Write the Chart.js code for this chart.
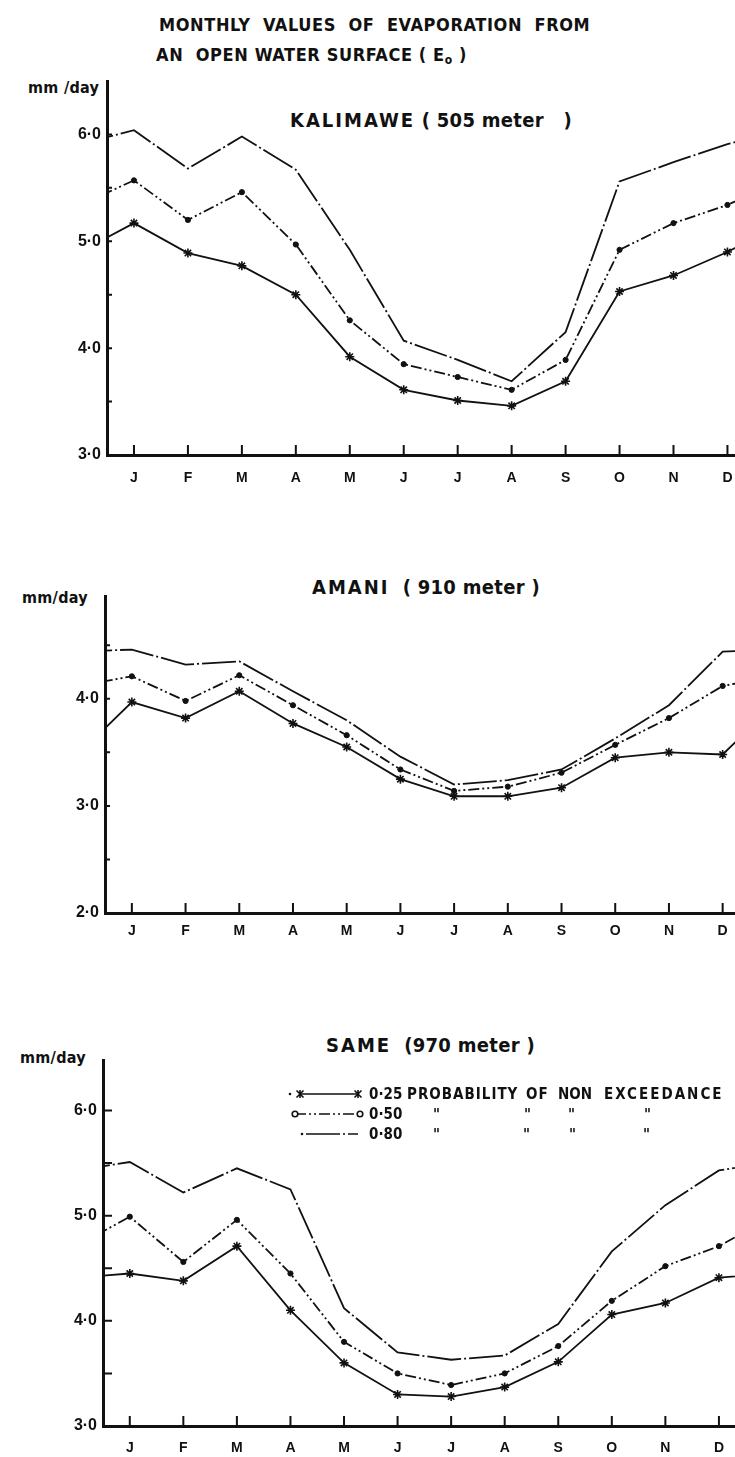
<!DOCTYPE html>
<html>
<head>
<meta charset="utf-8">
<title>Monthly values of evaporation from an open water surface</title>
<script src="https://cdn.jsdelivr.net/npm/chart.js@4.4.1/dist/chart.umd.min.js"></script>
<style>
  html, body { margin: 0; padding: 0; background: #fff; overflow: hidden; }
  body {
    width: 735px; height: 1457px; position: relative; color: #111;
    font-family: 'DejaVu Sans Condensed', 'Liberation Sans', sans-serif;
  }
  canvas { position: absolute; left: 0; }
  .t { position: absolute; white-space: pre; font-weight: bold; line-height: 1; }
  .title { font-size: 18px; letter-spacing: 0.6px; }
  .station { font-size: 20px; letter-spacing: 0.3px; }
  .station b { letter-spacing: 2px; }
  .unit { font-size: 16px; letter-spacing: 0.3px; }
  .leg { font-size: 15px; letter-spacing: 1px; }
  .num { letter-spacing: 0; }
  .ditto { font-size: 15px; font-style: italic; }
  sub { font-size: 12px; vertical-align: -3px; line-height: 0; }
</style>
</head>
<body>

<div class="t title" style="left:159px; top:16px;">MONTHLY  VALUES  OF  EVAPORATION  FROM</div>
<div class="t title" style="left:156px; top:46px;">AN  OPEN WATER SURFACE ( E<sub>o</sub> )</div>

<div class="t station" style="left:290px; top:110px;"><b>KALIMAWE</b> ( 505 meter   )</div>
<div class="t unit" style="left:28px; top:80px;">mm /day</div>
<canvas id="kalimawe" width="735" height="420" style="top:69px;"></canvas>

<div class="t station" style="left:312px; top:577px;"><b>AMANI</b>  ( 910 meter )</div>
<div class="t unit" style="left:22px; top:590px;">mm/day</div>
<canvas id="amani" width="735" height="362" style="top:584px;"></canvas>

<div class="t station" style="left:326px; top:1035px;"><b>SAME</b>  (970 meter )</div>
<div class="t unit" style="left:20px; top:1050px;">mm/day</div>
<canvas id="same" width="735" height="409" style="top:1048px;"></canvas>

<!-- legend texts, the line samples are drawn on the SAME canvas -->
<div class="t leg num" style="left:369px; top:1087px;">0·25</div>
<div class="t leg" style="left:407px; top:1087px;">PROBABILITY</div>
<div class="t leg" style="left:526px; top:1087px;">OF</div>
<div class="t leg num" style="left:558px; top:1087px;">NON</div>
<div class="t leg" style="left:604px; top:1087px; letter-spacing:2px;">EXCEEDANCE</div>
<div class="t leg num" style="left:369px; top:1107px;">0·50</div>
<div class="t leg num" style="left:369px; top:1127px;">0·80</div>
<div class="t ditto" style="left:433px; top:1108px;">"</div>
<div class="t ditto" style="left:524px; top:1108px;">"</div>
<div class="t ditto" style="left:568px; top:1108px;">"</div>
<div class="t ditto" style="left:644px; top:1108px;">"</div>
<div class="t ditto" style="left:433px; top:1128px;">"</div>
<div class="t ditto" style="left:523px; top:1128px;">"</div>
<div class="t ditto" style="left:569px; top:1128px;">"</div>
<div class="t ditto" style="left:643px; top:1128px;">"</div>

<script>
// ---------------------------------------------------------------------------
//  Monthly evaporation Eo (mm/day), probability of non exceedance 0.25/0.50/0.80
// ---------------------------------------------------------------------------
const MONTHS = ["J", "F", "M", "A", "M", "J", "J", "A", "S", "O", "N", "D"];

const KALIMAWE_P25 = [5.17, 4.89, 4.77, 4.50, 3.92, 3.61, 3.51, 3.46, 3.69, 4.53, 4.68, 4.90];
const KALIMAWE_P50 = [5.57, 5.20, 5.46, 4.97, 4.26, 3.85, 3.73, 3.61, 3.89, 4.92, 5.17, 5.34];
const KALIMAWE_P80 = [6.04, 5.68, 5.98, 5.67, 4.92, 4.07, 3.89, 3.69, 4.15, 5.56, 5.74, 5.91];

const AMANI_P25 = [3.97, 3.82, 4.07, 3.77, 3.55, 3.25, 3.09, 3.09, 3.17, 3.45, 3.50, 3.48];
const AMANI_P50 = [4.21, 3.98, 4.22, 3.94, 3.66, 3.34, 3.14, 3.18, 3.31, 3.57, 3.82, 4.12];
const AMANI_P80 = [4.46, 4.32, 4.35, 4.07, 3.80, 3.46, 3.20, 3.24, 3.34, 3.63, 3.94, 4.44];

const SAME_P25 = [4.45, 4.38, 4.71, 4.10, 3.60, 3.30, 3.28, 3.37, 3.61, 4.06, 4.17, 4.41];
const SAME_P50 = [4.99, 4.56, 4.96, 4.45, 3.80, 3.50, 3.39, 3.50, 3.76, 4.19, 4.52, 4.71];
const SAME_P80 = [5.51, 5.22, 5.45, 5.25, 4.12, 3.70, 3.63, 3.67, 3.97, 4.66, 5.10, 5.43];

const INK = "#111";

Chart.defaults.font.family = "'Liberation Sans', 'DejaVu Sans', sans-serif";
Chart.defaults.font.weight = "bold";
Chart.defaults.color = INK;

// the year is cyclic: Dec is repeated before J and J after Dec, the axes clip it
function cyclic(values) {
    const pts = values.map((v, i) => ({ x: i + 1, y: v }));
    pts.unshift({ x: 0, y: values[values.length - 1] });
    pts.push({ x: 13, y: values[0] });
    return pts;
}

const onMonth = (r) => (ctx) => (ctx.raw && ctx.raw.x >= 1 && ctx.raw.x <= 12 ? r : 0);

function datasets(p25, p50, p80) {
    return [
        {
            label: "0·25",
            data: cyclic(p25),
            borderColor: INK, borderWidth: 1.8,
            pointStyle: "star", pointRadius: onMonth(4.5), pointBorderWidth: 1.6,
            pointBorderColor: INK, pointBackgroundColor: INK,
        },
        {
            label: "0·50",
            data: cyclic(p50),
            borderColor: INK, borderWidth: 1.8, borderDash: [11, 3, 2, 3, 2, 3],
            pointStyle: "circle", pointRadius: onMonth(2.6), pointBorderWidth: 1,
            pointBorderColor: INK, pointBackgroundColor: INK,
        },
        {
            label: "0·80",
            data: cyclic(p80),
            borderColor: INK, borderWidth: 1.8, borderDash: [34, 3, 2, 3],
            pointRadius: 0,
        },
    ];
}

// short tick marks drawn inward, like the original drawing
const innerTicks = {
    id: "innerTicks",
    afterDraw(chart, args, opts) {
        const { ctx, chartArea, scales: { x, y } } = chart;
        ctx.save();
        ctx.strokeStyle = INK;
        ctx.lineWidth = 2;
        ctx.beginPath();
        x.ticks.forEach((t) => {
            const px = x.getPixelForValue(t.value);
            ctx.moveTo(px, chartArea.bottom);
            ctx.lineTo(px, chartArea.bottom - opts.xLen);
        });
        for (let v = y.min + 0.5; v < y.max - 0.2; v += 0.5) {
            const py = y.getPixelForValue(v);
            ctx.moveTo(chartArea.left, py);
            ctx.lineTo(chartArea.left + opts.yLen, py);
        }
        ctx.stroke();
        ctx.restore();
    },
};

// legend line samples (the texts are html)
const legendSamples = {
    id: "legendSamples",
    afterDraw(chart, args, opts) {
        if (!opts.rows) return;
        const ctx = chart.ctx;
        chart.data.datasets.forEach((ds, i) => {
            const row = opts.rows[i];
            ctx.save();
            ctx.strokeStyle = INK;
            ctx.fillStyle = INK;
            ctx.lineWidth = 1.6;
            ctx.setLineDash(ds.borderDash || []);
            ctx.beginPath();
            ctx.moveTo(row.x0, row.y);
            ctx.lineTo(row.x1, row.y);
            ctx.stroke();
            ctx.setLineDash([]);
            [row.x0, row.x1].forEach((px) => {
                if (ds.pointStyle === "star") {
                    ctx.beginPath();
                    ctx.moveTo(px - 3.5, row.y - 3.5); ctx.lineTo(px + 3.5, row.y + 3.5);
                    ctx.moveTo(px - 3.5, row.y + 3.5); ctx.lineTo(px + 3.5, row.y - 3.5);
                    ctx.moveTo(px, row.y - 4); ctx.lineTo(px, row.y + 4);
                    ctx.stroke();
                } else if (ds.pointStyle === "circle") {
                    ctx.beginPath();
                    ctx.fillStyle = "#fff";
                    ctx.arc(px, row.y, 2.8, 0, Math.PI * 2);
                    ctx.fill();
                    ctx.stroke();
                }
            });
            if (row.dot) {
                ctx.beginPath();
                ctx.arc(row.dot, row.y, 1.3, 0, Math.PI * 2);
                ctx.fillStyle = INK;
                ctx.fill();
            }
            ctx.restore();
        });
    },
};

function buildChart(id, p25, p50, p80, cfg) {
    return new Chart(document.getElementById(id), {
        type: "line",
        data: { datasets: datasets(p25, p50, p80) },
        options: {
            responsive: false,
            animation: false,
            events: [],
            layout: { padding: { top: 12, right: 0, bottom: 0, left: 0 } },
            elements: { line: { tension: 0 } },
            plugins: {
                legend: { display: false },
                tooltip: { enabled: false },
                innerTicks: { xLen: 10, yLen: cfg.yTick },
                legendSamples: { rows: cfg.legendRows },
            },
            scales: {
                x: {
                    type: "linear",
                    min: 0.5,
                    max: cfg.xMax,
                    afterBuildTicks: (s) => { s.ticks = MONTHS.map((m, i) => ({ value: i + 1 })); },
                    afterFit: (s) => {
                        s.height = cfg.xHeight;
                        s.paddingLeft = 0;
                        s.paddingRight = 0;
                    },
                    grid: { display: false, drawTicks: false },
                    border: { display: true, width: 3, color: INK },
                    ticks: {
                        autoSkip: false, maxRotation: 0, padding: cfg.xPad,
                        font: { size: 14, weight: "bold" }, color: INK,
                        callback: (v) => MONTHS[v - 1] || "",
                    },
                },
                y: {
                    min: cfg.yMin,
                    max: cfg.yMax,
                    afterBuildTicks: (s) => {
                        const t = [];
                        for (let v = cfg.yMin; v <= s.max; v += 1) t.push({ value: v });
                        s.ticks = t;
                    },
                    afterFit: (s) => {
                        s.width = cfg.yAxisX;
                        s.paddingTop = 0;
                        s.paddingBottom = 0;
                    },
                    grid: { display: false, drawTicks: false },
                    border: { display: true, width: 3, color: INK },
                    ticks: {
                        padding: 6,
                        font: { size: 16, weight: "bold" }, color: INK,
                        callback: (v) => v.toFixed(1).replace(".", "·"),
                    },
                },
            },
        },
        plugins: [innerTicks, legendSamples],
    });
}

document.addEventListener("DOMContentLoaded", () => {
    buildChart("kalimawe", KALIMAWE_P25, KALIMAWE_P50, KALIMAWE_P80, {
        yMin: 3, yMax: 6.5, yAxisX: 107, xMax: 12.14, xHeight: 34, xPad: 15, yTick: 5,
    });
    buildChart("amani", AMANI_P25, AMANI_P50, AMANI_P80, {
        yMin: 2, yMax: 4.96, yAxisX: 105, xMax: 12.23, xHeight: 33, xPad: 10, yTick: 5,
    });
    buildChart("same", SAME_P25, SAME_P50, SAME_P80, {
        yMin: 3, yMax: 6.48, yAxisX: 103, xMax: 12.3, xHeight: 31, xPad: 14, yTick: 9,
        legendRows: [
            { x0: 300, x1: 358, y: 46, dot: 290 },
            { x0: 295, x1: 360, y: 66 },
            { x0: 306, x1: 358, y: 86, dot: 302 },
        ],
    });
});
</script>
</body>
</html>
